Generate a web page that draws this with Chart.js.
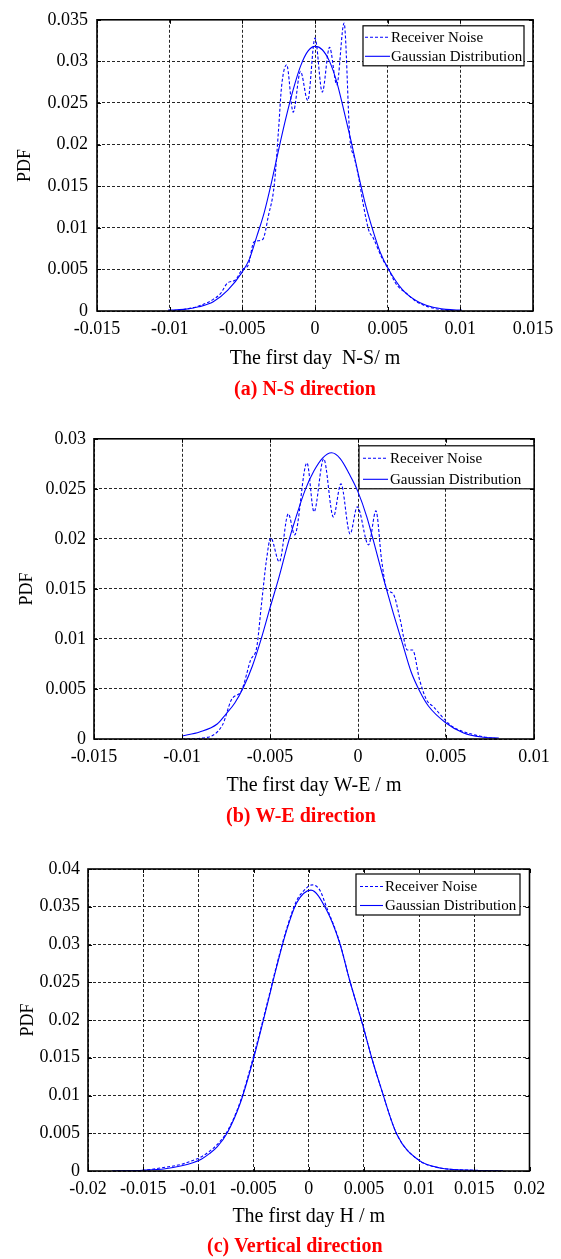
<!DOCTYPE html>
<html><head><meta charset="utf-8">
<script src="https://cdn.jsdelivr.net/npm/chart.js@4/dist/chart.umd.min.js"></script>
<style>
html,body{margin:0;padding:0;background:#fff;}
body{width:561px;height:1259px;position:relative;overflow:hidden;}
canvas{position:absolute;left:0;}
</style></head><body>
<canvas id="cA" width="561" height="400" style="top:0px"></canvas>
<canvas id="cB" width="561" height="408" style="top:420px"></canvas>
<canvas id="cC" width="561" height="409" style="top:850px"></canvas>
<script>
// ---------- Panel (a) N-S ----------
const nsXTicks = [-0.015,-0.01,-0.005,0,0.005,0.01,0.015];
const nsXLabels = ["-0.015","-0.01","-0.005","0","0.005","0.01","0.015"];
const nsYTicks = [0,0.005,0.01,0.015,0.02,0.025,0.03,0.035];
const nsYLabels = ["0","0.005","0.01","0.015","0.02","0.025","0.03","0.035"];
const nsNoiseX = [-0.0101,-0.009,-0.008,-0.007,-0.0065,-0.006,-0.0055,-0.005,-0.0046,-0.0042,-0.0036,-0.0032,-0.0028,-0.0025,-0.0023,-0.00195,-0.0015,-0.001,-0.0005,0,0.0005,0.001,0.0015,0.002,0.0024,0.0027,0.003,0.0033,0.0037,0.004,0.0046,0.005,0.0056,0.0063,0.007,0.008,0.009,0.0101];
const nsNoiseY = [0,0.0002,0.0006,0.0014,0.0021,0.0034,0.0037,0.0050,0.0055,0.0083,0.0086,0.0115,0.0152,0.0220,0.0270,0.0296,0.0239,0.0288,0.0253,0.0328,0.0263,0.0317,0.0272,0.0346,0.0208,0.0185,0.0161,0.0130,0.0097,0.0088,0.0064,0.0052,0.0032,0.0021,0.0011,0.0004,0.0001,0];
const nsGaussX = [-0.0101,-0.009,-0.008,-0.007,-0.006,-0.005,-0.0045,-0.004,-0.0035,-0.003,-0.0025,-0.002,-0.0015,-0.001,-0.0005,0,0.0005,0.001,0.0015,0.002,0.0025,0.003,0.0035,0.004,0.0045,0.005,0.006,0.007,0.008,0.009,0.0101];
const nsGaussY = [0.0001,0.0002,0.0005,0.0011,0.0025,0.0047,0.0063,0.0090,0.0118,0.0154,0.0194,0.0232,0.0266,0.0294,0.0312,0.0318,0.0314,0.0300,0.0275,0.0240,0.0203,0.0163,0.0126,0.0096,0.0070,0.0052,0.0026,0.0012,0.0005,0.0002,0.0001];

// ---------- Panel (b) W-E ----------
const weXTicks = [-0.015,-0.01,-0.005,0,0.005,0.01];
const weXLabels = ["-0.015","-0.01","-0.005","0","0.005","0.01"];
const weYTicks = [0,0.005,0.01,0.015,0.02,0.025,0.03];
const weYLabels = ["0","0.005","0.01","0.015","0.02","0.025","0.03"];
const weNoiseX = [-0.0100,-0.0088,-0.0077,-0.0072,-0.0066,-0.0061,-0.00575,-0.0055,-0.0052,-0.00496,-0.00447,-0.00396,-0.0036,-0.0029,-0.0025,-0.00195,-0.0014,-0.00097,-0.00045,-0.00004,0.0006,0.00102,0.00134,0.00163,0.002,0.0024,0.0028,0.0031,0.0035,0.0039,0.0043,0.005,0.0054,0.0069,0.008];
const weNoiseY = [0,0.0001,0.0014,0.0039,0.0049,0.0079,0.0092,0.0132,0.0179,0.0201,0.0177,0.0225,0.0204,0.0276,0.0227,0.0280,0.0222,0.0255,0.0205,0.0232,0.0194,0.0228,0.0179,0.0150,0.0145,0.0119,0.0089,0.0089,0.0059,0.0039,0.0032,0.0018,0.0012,0.0003,0];
const weGaussX = [-0.0100,-0.009,-0.008,-0.0075,-0.007,-0.0065,-0.006,-0.0055,-0.005,-0.0045,-0.004,-0.0035,-0.003,-0.0025,-0.002,-0.0015,-0.001,-0.0005,0,0.0005,0.001,0.0015,0.002,0.0025,0.003,0.0035,0.004,0.005,0.006,0.007,0.008];
const weGaussY = [0.0003,0.0007,0.0015,0.0025,0.0036,0.0052,0.0073,0.0100,0.0131,0.0161,0.0194,0.0223,0.0249,0.0268,0.0281,0.0286,0.0280,0.0265,0.0247,0.0222,0.0190,0.0157,0.0126,0.0097,0.0068,0.0048,0.0033,0.0016,0.0006,0.0002,0.0001];

// ---------- Panel (c) Vertical ----------
const hXTicks = [-0.02,-0.015,-0.01,-0.005,0,0.005,0.01,0.015,0.02];
const hXLabels = ["-0.02","-0.015","-0.01","-0.005","0","0.005","0.01","0.015","0.02"];
const hYTicks = [0,0.005,0.01,0.015,0.02,0.025,0.03,0.035,0.04];
const hYLabels = ["0","0.005","0.01","0.015","0.02","0.025","0.03","0.035","0.04"];
const hNoiseX = [-0.0178,-0.015,-0.013,-0.0115,-0.0105,-0.0097,-0.009,-0.0083,-0.0074,-0.0062,-0.005,-0.0038,-0.0029,-0.002,-0.0011,-0.0004,0.0003,0.001,0.0016,0.0028,0.0037,0.0049,0.0057,0.0065,0.008,0.0099,0.0119,0.0149,0.0176];
const hNoiseY = [0,0.0001,0.0005,0.0009,0.0014,0.0019,0.0026,0.0035,0.0052,0.0092,0.0152,0.0220,0.0273,0.0321,0.0358,0.0372,0.0379,0.0372,0.0350,0.0303,0.0253,0.0193,0.0150,0.0112,0.0048,0.0015,0.0004,0.0001,0];
const hGaussX = [-0.0178,-0.015,-0.013,-0.0115,-0.0105,-0.0097,-0.009,-0.0083,-0.0074,-0.0062,-0.005,-0.0038,-0.0029,-0.002,-0.0011,0.0002,0.0016,0.0028,0.0037,0.0049,0.0057,0.0065,0.008,0.0099,0.0119,0.0149,0.0176];
const hGaussY = [0,0.0001,0.0003,0.0007,0.0011,0.0016,0.0023,0.0032,0.0050,0.0090,0.0149,0.0218,0.0271,0.0319,0.0355,0.0372,0.0346,0.0302,0.0253,0.0193,0.0150,0.0112,0.0048,0.0015,0.0004,0.0001,0];

const seriesNames = ["Receiver Noise","Gaussian Distribution"];
const LINE_BLUE = '#0000ff';
const FONT = "'Liberation Serif', 'Times New Roman', serif";

const pts = (xs, ys) => xs.map((x, i) => ({x: x, y: ys[i]}));

const framePlugin = {
  id: 'matlabFrame',
  afterDraw(chart, args, opts) {
    const {ctx, chartArea: a, scales} = chart;
    ctx.save();
    ctx.strokeStyle = '#000';
    ctx.lineWidth = 1;
    ctx.setLineDash([]);
    const tl = 4;
    scales.x.ticks.forEach(t => {
      const px = Math.round(scales.x.getPixelForValue(t.value)) + 0.5;
      ctx.beginPath();
      ctx.moveTo(px, a.bottom); ctx.lineTo(px, a.bottom - tl);
      ctx.moveTo(px, a.top); ctx.lineTo(px, a.top + tl);
      ctx.stroke();
    });
    scales.y.ticks.forEach(t => {
      const py = Math.round(scales.y.getPixelForValue(t.value)) + 0.5;
      ctx.beginPath();
      ctx.moveTo(a.left, py); ctx.lineTo(a.left + tl, py);
      ctx.moveTo(a.right, py); ctx.lineTo(a.right - tl, py);
      ctx.stroke();
    });
    ctx.lineWidth = 1.6;
    ctx.strokeRect(a.left, a.top, a.right - a.left, a.bottom - a.top);
    // legend
    const L = opts.legend;
    if (L) {
      const bx = a.right - L.rightGap - L.w, by = a.top + L.topGap;
      ctx.fillStyle = '#fff';
      ctx.fillRect(bx, by, L.w, L.h);
      ctx.lineWidth = 1.2;
      ctx.strokeStyle = '#000';
      ctx.strokeRect(bx, by, L.w, L.h);
      ctx.font = '15px ' + FONT;
      ctx.textBaseline = 'middle';
      ctx.textAlign = 'left';
      L.rows.forEach((ry, i) => {
        const ds = chart.data.datasets[i];
        ctx.strokeStyle = ds.borderColor;
        ctx.lineWidth = ds.borderWidth;
        ctx.setLineDash(ds.borderDash || []);
        ctx.beginPath();
        ctx.moveTo(bx + L.s0, by + ry + 0.5);
        ctx.lineTo(bx + L.s1, by + ry + 0.5);
        ctx.stroke();
        ctx.setLineDash([]);
        ctx.fillStyle = '#000';
        ctx.fillText(ds.label, bx + L.tx, by + ry + 1);
      });
    }
    // caption under the axis title
    const C = opts.caption;
    if (C) {
      ctx.font = 'bold 20px ' + FONT;
      ctx.fillStyle = '#ff0000';
      ctx.textAlign = 'center';
      ctx.textBaseline = 'middle';
      ctx.fillText(C.text, (a.left + a.right) / 2 + C.dx, a.bottom + C.dy);
    }
    ctx.restore();
  }
};

function makePanel(id, p) {
  const tickFont = {family: FONT, size: 18};
  return new Chart(document.getElementById(id), {
    type: 'line',
    data: {
      datasets: [
        {label: seriesNames[0], data: pts(p.noiseX, p.noiseY), borderColor: LINE_BLUE, borderWidth: 1.1,
         borderDash: [3, 2], pointRadius: 0, fill: false, cubicInterpolationMode: 'monotone'},
        {label: seriesNames[1], data: pts(p.gaussX, p.gaussY), borderColor: LINE_BLUE, borderWidth: 1.1,
         pointRadius: 0, fill: false, cubicInterpolationMode: 'monotone'}
      ]
    },
    options: {
      responsive: false,
      animation: false,
      devicePixelRatio: 1,
      layout: {padding: {left: 0, right: p.padRight, top: p.padTop, bottom: p.padBottom}},
      plugins: {
        legend: {display: false},
        tooltip: {enabled: false},
        title: {display: false},
        matlabFrame: {legend: p.legend, caption: {text: p.caption, dx: p.capDx, dy: p.capDy}}
      },
      scales: {
        x: {
          type: 'linear', min: p.xTicks[0], max: p.xTicks[p.xTicks.length - 1],
          afterBuildTicks: s => { s.ticks = p.xTicks.map(v => ({value: v})); },
          afterFit: s => { s.height = p.xAxisH; },
          ticks: {font: tickFont, color: '#000', padding: 7, maxRotation: 0, autoSkip: false,
                  callback: (v, i) => p.xLabels[i]},
          grid: {color: 'rgba(0,0,0,0.85)', lineWidth: 1, drawTicks: false},
          border: {display: false, dash: [3, 2]},
          title: {display: true, text: p.xTitle, color: '#000',
                  font: {family: FONT, size: 20, lineHeight: 1.2}, padding: {top: 0, bottom: 2}}
        },
        y: {
          type: 'linear', min: p.yTicks[0], max: p.yTicks[p.yTicks.length - 1],
          afterBuildTicks: s => { s.ticks = p.yTicks.map(v => ({value: v})); },
          afterFit: s => { s.width = p.yAxisW; },
          ticks: {font: tickFont, color: '#000', padding: p.yTickPad, autoSkip: false,
                  callback: (v, i) => p.yLabels[i]},
          grid: {color: 'rgba(0,0,0,0.85)', lineWidth: 1, drawTicks: false},
          border: {display: false, dash: [3, 2]},
          title: {display: true, text: 'PDF', color: '#000',
                  font: {family: FONT, size: 18, lineHeight: 1.2}, padding: {top: p.yTitlePad, bottom: 0}}
        }
      }
    },
    plugins: [framePlugin]
  });
}

makePanel('cA', {
  noiseX: nsNoiseX, noiseY: nsNoiseY, gaussX: nsGaussX, gaussY: nsGaussY,
  xTicks: nsXTicks, xLabels: nsXLabels, yTicks: nsYTicks, yLabels: nsYLabels,
  xTitle: 'The first day  N-S/ m', caption: '(a) N-S direction', capDx: -10, capDy: 79,
  padTop: 12, padRight: 28, padBottom: 27, xAxisH: 62, yAxisW: 97, yTickPad: 9, yTitlePad: 14,
  legend: {rightGap: 9, topGap: 6, w: 161, h: 40, rows: [11, 30], s0: 2, s1: 27, tx: 28}
});
makePanel('cB', {
  noiseX: weNoiseX, noiseY: weNoiseY, gaussX: weGaussX, gaussY: weGaussY,
  xTicks: weXTicks, xLabels: weXLabels, yTicks: weYTicks, yLabels: weYLabels,
  xTitle: 'The first day W-E / m', caption: '(b) W-E direction', capDx: -13, capDy: 78,
  padTop: 18, padRight: 27, padBottom: 28, xAxisH: 61, yAxisW: 94, yTickPad: 8, yTitlePad: 16,
  legend: {rightGap: 0, topGap: 7, w: 175, h: 43, rows: [12, 33], s0: 4, s1: 29, tx: 31}
});
makePanel('cC', {
  noiseX: hNoiseX, noiseY: hNoiseY, gaussX: hGaussX, gaussY: hGaussY,
  xTicks: hXTicks, xLabels: hXLabels, yTicks: hYTicks, yLabels: hYLabels,
  xTitle: 'The first day H / m', caption: '(c) Vertical direction', capDx: -14, capDy: 76,
  padTop: 19, padRight: 31.5, padBottom: 28, xAxisH: 60, yAxisW: 88, yTickPad: 8, yTitlePad: 17,
  legend: {rightGap: 9.5, topGap: 5, w: 164, h: 41, rows: [12, 31], s0: 4, s1: 27, tx: 29}
});
</script>
</body></html>
